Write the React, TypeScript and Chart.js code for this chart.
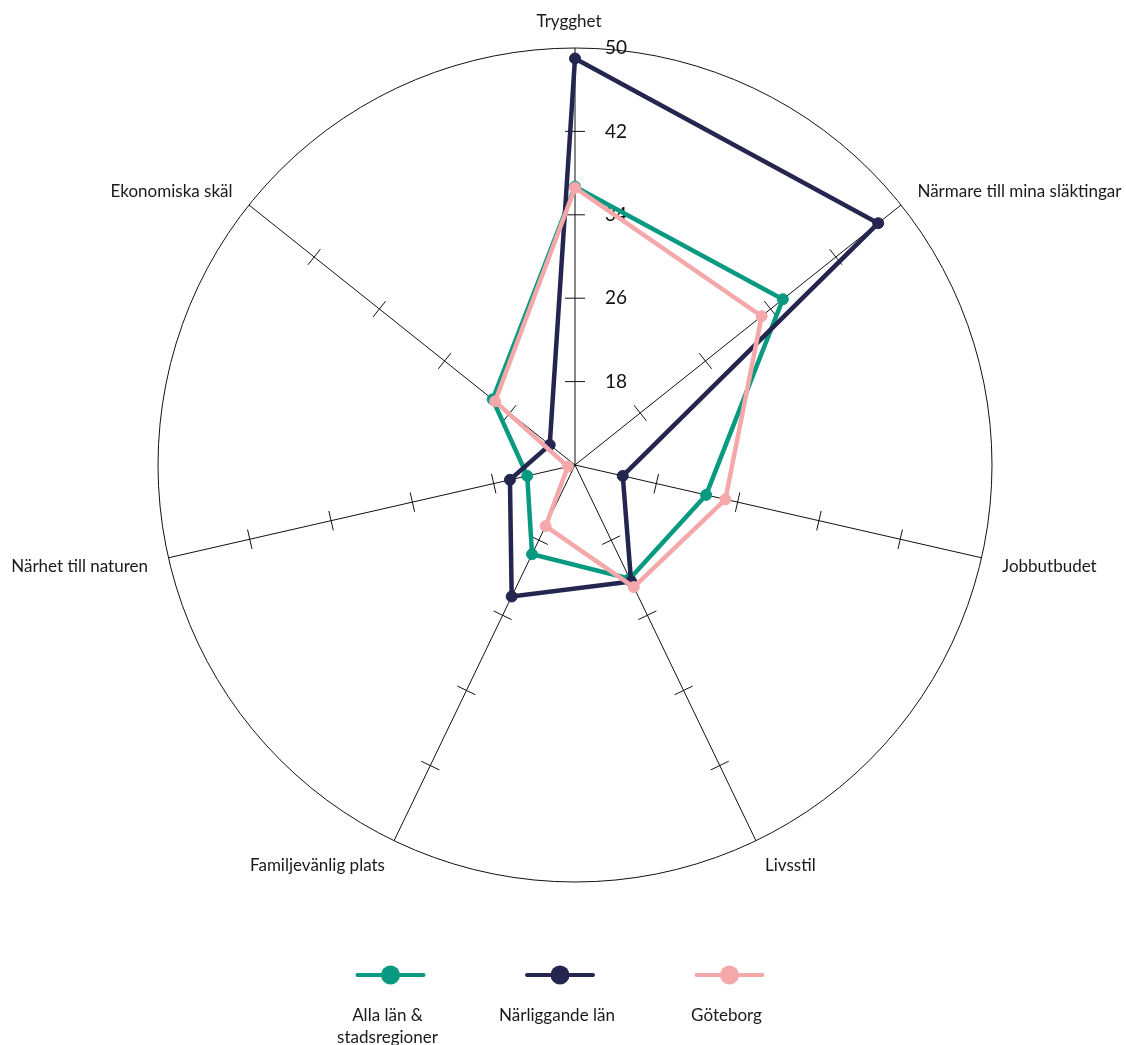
import React, { useEffect, useRef } from 'react';
import { Chart, registerables } from 'chart.js';

Chart.register(...registerables);

// ---- data ----
const categories = [
  'Trygghet',
  'Närmare till mina släktingar',
  'Jobbutbudet',
  'Livsstil',
  'Familjevänlig plats',
  'Närhet till naturen',
  'Ekonomiska skäl',
];
const seriesNames = ['Alla län & stadsregioner', 'Närliggande län', 'Göteborg'];
const allaLan = [36.7, 35.5, 22.9, 22.1, 19.5, 14.7, 20.1];
const narliggandeLan = [49.0, 47.2, 14.7, 22.4, 24.0, 16.4, 13.1];
const goteborg = [36.6, 32.9, 24.8, 23.0, 16.5, 10.7, 19.8];
const scaleMin = 10;
const scaleMax = 50;
const scaleStep = 8;

// ---- styles ----
const COLORS = ['#079a80', '#24264f', '#f4a8aa'];
const FONT = 'Lato, "Open Sans", sans-serif';
const W = 1126;
const H = 1045;

const decor = {
  id: 'radarDecor',
  beforeDatasetsDraw(chart: any) {
    const s = chart.scales.r;
    const ctx = chart.ctx as CanvasRenderingContext2D;
    const n = chart.data.labels.length;
    ctx.save();
    // cross tick marks on every spoke
    ctx.strokeStyle = '#111';
    ctx.lineWidth = 1;
    for (let i = 0; i < n; i++) {
      const ang = s.getIndexAngle(i) - Math.PI / 2;
      const px = -Math.sin(ang);
      const py = Math.cos(ang);
      s.ticks.forEach((t: any, k: number) => {
        if (k === 0 || t.value >= s.max) return;
        const d = s.getDistanceFromCenterForValue(t.value);
        const p = s.getPointPosition(i, d);
        ctx.beginPath();
        ctx.moveTo(p.x - px * 10, p.y - py * 10);
        ctx.lineTo(p.x + px * 10, p.y + py * 10);
        ctx.stroke();
      });
    }
    // value labels beside the first spoke
    ctx.fillStyle = '#111';
    ctx.font = `19px ${FONT}`;
    ctx.textAlign = 'left';
    ctx.textBaseline = 'middle';
    s.ticks.forEach((t: any, k: number) => {
      if (k === 0) return;
      const p = s.getPointPosition(0, s.getDistanceFromCenterForValue(t.value));
      ctx.fillText(String(t.label), p.x + 30, p.y);
    });
    // category labels
    ctx.font = `17px ${FONT}`;
    ctx.fillStyle = '#1a1a1a';
    for (let i = 0; i < n; i++) {
      const p = s.getPointPosition(i, s.drawingArea + 21);
      const cx = Math.cos(p.angle);
      const sy = Math.sin(p.angle);
      ctx.textAlign = cx > 0.1 ? 'left' : cx < -0.1 ? 'right' : 'center';
      let y = p.y;
      let x = p.x;
      if (sy < -0.9) {
        y -= 5;
        x -= 6;
      } else if (sy > 0.5) y += 6;
      else if (sy > 0.1) y += 4;
      ctx.fillText(chart.data.labels[i], x, y);
    }
    ctx.restore();
  },
  afterDraw(chart: any) {
    const ctx = chart.ctx as CanvasRenderingContext2D;
    const s = chart.scales.r;
    const ds = chart.data.datasets;
    const spacing = 169.5;
    const baseX = s.xCenter - 15 - spacing * (ds.length - 1) / 2;
    const symY = 975;
    ctx.save();
    ds.forEach((d: any, i: number) => {
      const cx = baseX + i * spacing;
      ctx.strokeStyle = d.borderColor;
      ctx.lineWidth = 4;
      ctx.lineCap = 'round';
      ctx.beginPath();
      ctx.moveTo(cx - 33, symY);
      ctx.lineTo(cx + 33, symY);
      ctx.stroke();
      ctx.fillStyle = d.borderColor;
      ctx.beginPath();
      ctx.arc(cx, symY, 9.5, 0, Math.PI * 2);
      ctx.fill();
      // label, wrapped
      ctx.font = `17px ${FONT}`;
      ctx.fillStyle = '#1a1a1a';
      ctx.textAlign = 'center';
      ctx.textBaseline = 'middle';
      const words = String(d.label).split(' ');
      const lines: string[] = [];
      let cur = '';
      words.forEach((w) => {
        const test = cur ? cur + ' ' + w : w;
        if (ctx.measureText(test).width > 135 && cur) {
          lines.push(cur);
          cur = w;
        } else cur = test;
      });
      if (cur) lines.push(cur);
      lines.forEach((ln, k) => ctx.fillText(ln, cx - 3, 1016 + k * 22));
    });
    ctx.restore();
  },
};

export default function App() {
  const ref = useRef<HTMLCanvasElement | null>(null);
  useEffect(() => {
    if (!ref.current) return;
    const seriesValues = [allaLan, narliggandeLan, goteborg];
    const drawOrder = [2, 1, 0];
    const chart = new Chart(ref.current, {
      type: 'radar',
      data: {
        labels: categories,
        datasets: seriesValues.map((vals, i) => ({
          label: seriesNames[i],
          data: vals,
          borderColor: COLORS[i],
          backgroundColor: 'rgba(0,0,0,0)',
          fill: false,
          borderWidth: 4.5,
          pointRadius: 5.5,
          pointBackgroundColor: COLORS[i],
          pointBorderColor: COLORS[i],
          pointBorderWidth: 1,
          tension: 0,
          order: drawOrder[i],
        })),
      },
      options: {
        responsive: false,
        animation: false,
        devicePixelRatio: 1,
        layout: { padding: { left: 158, right: 134, top: 48, bottom: 163 } },
        plugins: {
          legend: { display: false },
          tooltip: { enabled: false },
        },
        scales: {
          r: {
            min: scaleMin,
            max: scaleMax,
            ticks: { stepSize: scaleStep, display: false },
            pointLabels: { display: false },
            grid: {
              circular: true,
              lineWidth: 1,
              color: (c: any) =>
                c.index === Math.round((scaleMax - scaleMin) / scaleStep) ? '#111' : 'rgba(0,0,0,0)',
            },
            angleLines: { color: '#111', lineWidth: 1 },
          },
        },
      },
      plugins: [decor],
    } as any);
    return () => chart.destroy();
  }, []);
  return (
    <div style={{ position: 'absolute', left: 0, top: 0, width: W, height: H, background: '#fff' }}>
      <canvas ref={ref} width={W} height={H} style={{ display: 'block' }} />
    </div>
  );
}
